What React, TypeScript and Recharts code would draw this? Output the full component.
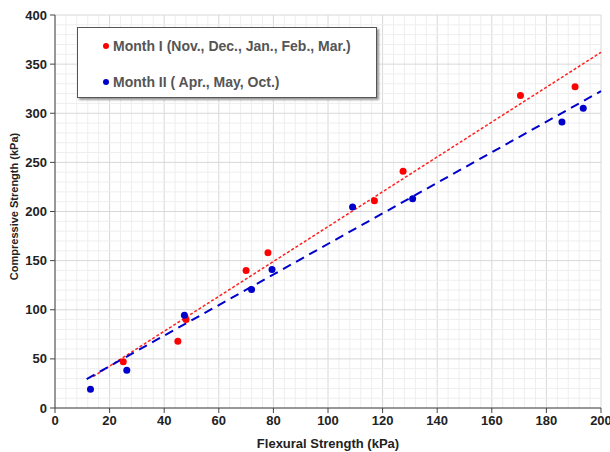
import React from "react";
import {
  ScatterChart,
  Scatter,
  XAxis,
  YAxis,
  ReferenceLine,
  Legend,
} from "recharts";

const month1 = [
  { x: 25, y: 47 },
  { x: 45, y: 68 },
  { x: 48, y: 90 },
  { x: 70, y: 140 },
  { x: 78, y: 158 },
  { x: 117, y: 211 },
  { x: 127.5, y: 241 },
  { x: 170.5, y: 318 },
  { x: 190.5, y: 327 },
];

const month2 = [
  { x: 13, y: 19 },
  { x: 26.3, y: 38.5 },
  { x: 47.4, y: 94.5 },
  { x: 72, y: 120.5 },
  { x: 79.5, y: 141 },
  { x: 109, y: 204.5 },
  { x: 131, y: 213 },
  { x: 185.7, y: 291 },
  { x: 193.5, y: 305 },
];

// trend line end points
const trend1 = [
  { x: 14, y: 32 },
  { x: 200, y: 362 },
];
const trend2 = [
  { x: 11.6, y: 29.5 },
  { x: 200, y: 322.5 },
];

const xTicks = [0, 20, 40, 60, 80, 100, 120, 140, 160, 180, 200];
const yTicks = [0, 50, 100, 150, 200, 250, 300, 350, 400];
const xMinor = Array.from({ length: 51 }, (_, i) => i * 4);
const yMinor = Array.from({ length: 41 }, (_, i) => i * 10);

const legendItems = [
  { label: "Month I (Nov., Dec., Jan., Feb., Mar.)", color: "#ff0000" },
  { label: "Month II ( Apr., May, Oct.)", color: "#0000cc" },
];

const font = "Arial, 'Liberation Sans', sans-serif";

const LegendBox = () => (
  <div
    style={{
      width: 300,
      height: 71,
      border: "1px solid #555",
      boxShadow: "2px 2px 2px #999",
      background: "#fff",
      fontFamily: font,
      fontWeight: "bold",
      fontSize: 14,
      color: "#555",
      boxSizing: "border-box",
      paddingTop: 9,
    }}
  >
    {legendItems.map((it) => (
      <div
        key={it.label}
        style={{ display: "flex", alignItems: "center", height: 18, marginBottom: 18, paddingLeft: 25 }}
      >
        <span
          style={{
            width: 6,
            height: 6,
            borderRadius: 3,
            background: it.color,
            marginRight: 4,
          }}
        />
        <span>{it.label}</span>
      </div>
    ))}
  </div>
);

const tickStyle = { fill: "#222", fontSize: 13, fontWeight: "bold", fontFamily: font };

export default function App() {
  return (
    <div style={{ position: "absolute", left: 0, top: 0, background: "#fff" }}>
      <ScatterChart
        width={610}
        height={452}
        margin={{ top: 15, right: 9, bottom: 0, left: 0 }}
      >
        {xMinor.map((v) => (
          <ReferenceLine key={"xm" + v} x={v} stroke={v % 20 === 0 ? "#d8d8d8" : "#eeeeee"} strokeWidth={1} />
        ))}
        {yMinor.map((v) => (
          <ReferenceLine key={"ym" + v} y={v} stroke={v % 50 === 0 ? "#d8d8d8" : "#eeeeee"} strokeWidth={1} />
        ))}
        <XAxis
          type="number"
          dataKey="x"
          domain={[0, 200]}
          ticks={xTicks}
          interval={0}
          height={44}
          stroke="#444"
          tickSize={5}
          tickMargin={3}
          tick={tickStyle}
          label={{
            value: "Flexural Strength (kPa)",
            position: "insideBottom",
            offset: 4,
            fill: "#222",
            fontSize: 13,
            fontWeight: "bold",
            fontFamily: font,
          }}
        />
        <YAxis
          type="number"
          dataKey="y"
          domain={[0, 400]}
          ticks={yTicks}
          interval={0}
          width={55}
          stroke="#444"
          tickSize={5}
          tickMargin={3}
          tick={tickStyle}
          label={{
            value: "Compressive Strength (kPa)",
            angle: -90,
            position: "insideLeft",
            dx: 9,
            dy: -5,
            fill: "#222",
            fontSize: 11,
            fontWeight: "bold",
            fontFamily: font,
            style: { textAnchor: "middle" },
          }}
        />
        <Scatter
          data={trend1}
          line={{ stroke: "#ff2020", strokeWidth: 1.5, strokeDasharray: "3 2" }}
          shape={() => null}
          legendType="none"
          isAnimationActive={false}
        />
        <Scatter
          data={trend2}
          line={{ stroke: "#0000cc", strokeWidth: 2, strokeDasharray: "9 6" }}
          shape={() => null}
          legendType="none"
          isAnimationActive={false}
        />
        <Scatter data={month1} fill="#ff0000" shape={(p: any) => <circle cx={p.cx} cy={p.cy} r={3.5} fill="#ff0000" />} isAnimationActive={false} />
        <Scatter data={month2} fill="#0000cc" shape={(p: any) => <circle cx={p.cx} cy={p.cy} r={3.5} fill="#0000cc" />} isAnimationActive={false} />
        <Legend
          content={<LegendBox />}
          layout="vertical"
          verticalAlign="middle"
          align="center"
          wrapperStyle={{ left: 77, top: 27, width: 300 }}
        />
      </ScatterChart>
    </div>
  );
}
